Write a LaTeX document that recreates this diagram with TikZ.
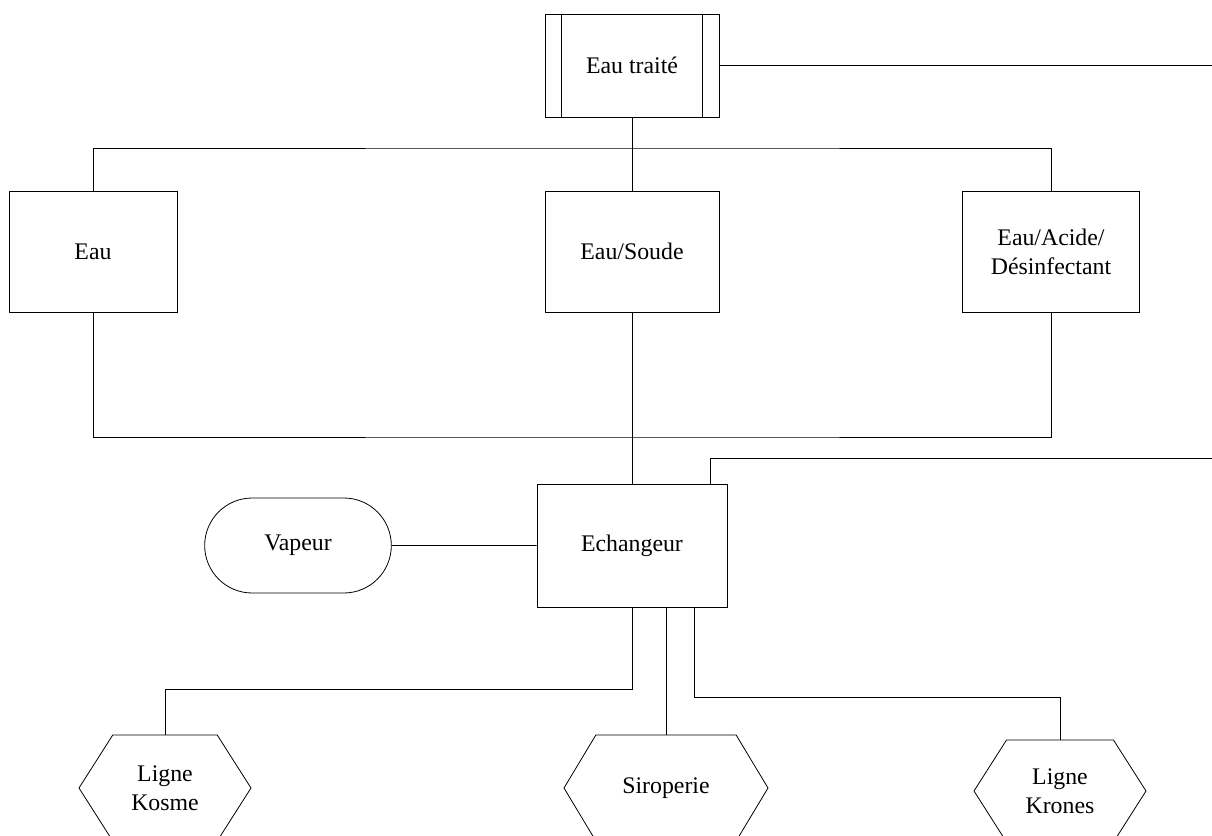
\documentclass[tikz,border=0pt]{standalone}
\usepackage{fontspec}
\setmainfont{Liberation Serif}
\usetikzlibrary{positioning,calc,shapes.misc,shapes.symbols}

\begin{document}
\begin{tikzpicture}[
  x=0.5pt,y=-0.5pt,
  every node/.style={font=\fontsize{11.9}{14.5}\selectfont,align=center},
  box/.style={draw,minimum width=174*0.5pt,minimum height=121*0.5pt,inner sep=2pt},
  term/.style={draw,rounded rectangle,minimum width=200*0.5pt,minimum height=95*0.5pt},
  hexa/.style={draw,signal,signal to=west and east,signal pointer angle=115,
               minimum width=172*0.5pt,minimum height=106*0.5pt,inner sep=2pt},
  lien/.style={line width=0.45pt}
]
\clip (0,0) rectangle (1212,836);

\node[box,minimum height=103*0.5pt] (traite) at (632,65.5) {Eau traité};
\draw[lien] ($(traite.north west)+(17,0)$) -- ($(traite.south west)+(17,0)$);
\draw[lien] ($(traite.north east)+(-17,0)$) -- ($(traite.south east)+(-17,0)$);

\node[box,minimum width=168*0.5pt] (eau) at (93,251.5) {Eau};
\node[box] (soude) at (632,251.5) {Eau/Soude};
\node[box,minimum width=177*0.5pt] (acide) at (1051,251.5) {Eau/Acide/\\Désinfectant};

\node[box,minimum width=190*0.5pt,minimum height=123*0.5pt] (ech) at (632,545.5) {Echangeur};
\node[term] (vapeur) at (298,545.5) {Vapeur};

\node[hexa] (kosme) at (165,788) {Ligne\\Kosme};
\node[hexa,minimum width=204*0.5pt,signal pointer angle=118] (sirop) at (666,788) {Siroperie};
\node[hexa,minimum height=102*0.5pt] (krones) at (1060,791) {Ligne\\Krones};

\coordinate (out1) at (1212,65.5);
\coordinate (out2) at (1212,458);
\coordinate (bus1) at (632,148);
\coordinate (bus2) at (632,437);

\draw[lien] (traite.east) -- (out1);
\draw[lien] (traite.south) -- (soude.north);
\draw[lien] (eau.north) |- (bus1) -| (acide.north);
\draw[lien] (eau.south) |- (bus2) -| (acide.south);
\draw[lien] (soude.south) -- (ech.north);
\draw[lien] ($(ech.north)+(78,0)$) |- (out2);
\draw[lien] (vapeur) -- (ech);
\draw[lien] (ech.south) -- ++(0,82) -| (kosme.north);
\draw[lien] (sirop.north) -- (sirop.north |- ech.south);
\draw[lien] ($(ech.south)+(62,0)$) -- ++(0,90) -| (krones.north);
\end{tikzpicture}
\end{document}
